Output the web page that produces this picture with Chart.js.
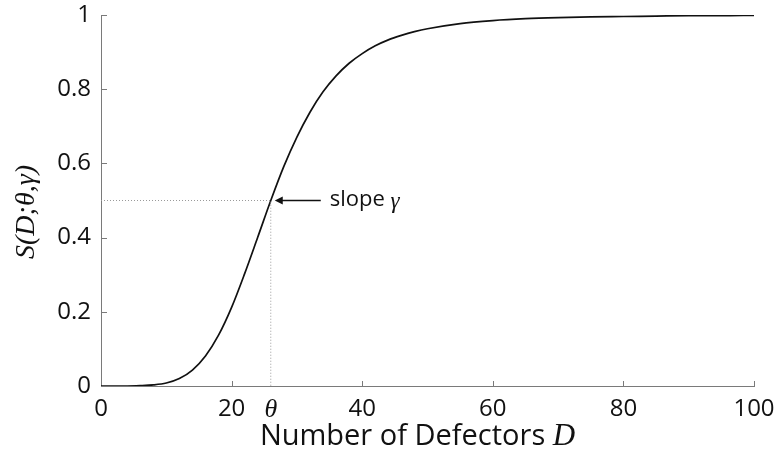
<!DOCTYPE html>
<html>
<head>
<meta charset="utf-8">
<script src="https://cdn.jsdelivr.net/npm/chart.js@4"></script>
<style>
  html, body { margin: 0; padding: 0; background: #fff; overflow: hidden; }
  #wrap { width: 800px; height: 463px; }
</style>
</head>
<body>
<div id="wrap"><canvas id="c" width="800" height="463"></canvas></div>
<script>
// ---- data ----
const defectors = [0,2,4,6,8,10,12,14,16,18,20,22,24,26,28,30,32,34,36,38,40,42,44,46,48,50,55,60,65,70,75,80,85,90,95,100];
const survival  = [0,0,0,0.001,0.003,0.008,0.020,0.043,0.081,0.137,0.212,0.303,0.401,0.5,0.592,0.671,0.738,0.793,0.836,0.870,0.896,0.917,0.933,0.945,0.955,0.963,0.977,0.985,0.990,0.993,0.995,0.996,0.997,0.998,0.998,0.999];
const theta = 26;
const halfLevel = 0.5;
const xTickValues = [0, 20, 26, 40, 60, 80, 100];
const yTickValues = [0, 0.2, 0.4, 0.6, 0.8, 1];
const xTitleMain = 'Number of Defectors ';
const xTitleVar = 'D';
const yTitle = 'S(D;θ,γ)';
const annotationText = 'slope γ';

const SANS = '"Open Sans", sans-serif';
const SERIF = '"Liberation Serif", serif';

const curvePoints = defectors.map((d, i) => ({ x: d, y: survival[i] }));
const guidePoints = [{ x: 0, y: halfLevel }, { x: theta, y: halfLevel }, { x: theta, y: 0 }];

const decorPlugin = {
  id: 'decor',
  afterDraw(chart) {
    const ctx = chart.ctx;
    const xs = chart.scales.x, ys = chart.scales.y;
    const area = chart.chartArea;
    ctx.save();
    // inward tick marks
    ctx.strokeStyle = '#7a7a7a';
    ctx.lineWidth = 1;
    xTickValues.forEach(v => {
      if (v === theta || v === 0) return;
      const px = Math.round(xs.getPixelForValue(v)) + 0.5;
      ctx.beginPath();
      ctx.moveTo(px, area.bottom);
      ctx.lineTo(px, area.bottom - 5);
      ctx.stroke();
    });
    yTickValues.forEach(v => {
      if (v === 0) return;
      const py = Math.round(ys.getPixelForValue(v)) + 0.5;
      ctx.beginPath();
      ctx.moveTo(area.left, py);
      ctx.lineTo(area.left + 6, py);
      ctx.stroke();
    });
    // annotation arrow + text
    const ax = xs.getPixelForValue(theta);
    const ay = ys.getPixelForValue(halfLevel);
    ctx.strokeStyle = '#111';
    ctx.fillStyle = '#111';
    ctx.lineWidth = 1.5;
    ctx.beginPath();
    ctx.moveTo(ax + 8, ay);
    ctx.lineTo(ax + 50, ay);
    ctx.stroke();
    ctx.beginPath();
    ctx.moveTo(ax + 4, ay);
    ctx.lineTo(ax + 12, ay - 4);
    ctx.lineTo(ax + 12, ay + 4);
    ctx.closePath();
    ctx.fill();
    ctx.textBaseline = 'middle';
    ctx.textAlign = 'left';
    ctx.font = '22px ' + SANS;
    const parts = annotationText.split(' ');
    ctx.fillText(parts[0] + ' ', ax + 59, ay - 1);
    const w1 = ctx.measureText(parts[0] + ' ').width;
    ctx.font = 'italic 23px ' + SERIF;
    ctx.fillText(parts[1], ax + 59 + w1, ay + 1);
    // x title (mixed fonts)
    ctx.textBaseline = 'alphabetic';
    ctx.font = '29px ' + SANS;
    const wMain = ctx.measureText(xTitleMain).width;
    ctx.font = 'italic 31px ' + SERIF;
    const wVar = ctx.measureText(xTitleVar).width;
    const cx = (area.left + area.right) / 2 - 10;
    let sx = cx - (wMain + wVar) / 2;
    ctx.font = '29px ' + SANS;
    ctx.fillText(xTitleMain, sx, 445);
    ctx.font = 'italic 31px ' + SERIF;
    ctx.fillText(xTitleVar, sx + wMain, 445);
    // y title
    ctx.translate(27, 212);
    ctx.rotate(-Math.PI / 2);
    ctx.textAlign = 'center';
    ctx.textBaseline = 'middle';
    ctx.font = 'italic 28px ' + SERIF;
    ctx.fillText(yTitle, 0, 0);
    ctx.restore();
  }
};

new Chart(document.getElementById('c'), {
  type: 'scatter',
  data: {
    datasets: [
      {
        data: guidePoints,
        showLine: true,
        borderColor: '#9a9a9a',
        borderWidth: 1,
        borderDash: [1, 2],
        pointRadius: 0,
        tension: 0
      },
      {
        data: curvePoints,
        showLine: true,
        borderColor: '#111',
        borderWidth: 1.7,
        pointRadius: 0,
        cubicInterpolationMode: 'monotone'
      }
    ]
  },
  options: {
    responsive: false,
    animation: false,
    devicePixelRatio: 1,
    layout: { padding: { left: 0, top: 15, right: 46, bottom: 0 } },
    plugins: { legend: { display: false }, tooltip: { enabled: false } },
    scales: {
      x: {
        type: 'linear',
        min: 0, max: 100,
        afterBuildTicks: s => { s.ticks = xTickValues.map(v => ({ value: v })); },
        afterFit: s => { s.height = 77; s.paddingLeft = 0; s.paddingRight = 0; },
        grid: { display: true, drawOnChartArea: false, drawTicks: false },
        border: { display: true, color: '#7a7a7a', width: 1 },
        ticks: {
          autoSkip: false, maxRotation: 0, padding: 9,
          color: '#111',
          font: ctx => (ctx.tick && ctx.tick.value === theta)
            ? { family: SERIF, size: 26, style: 'italic' }
            : { family: SANS, size: 24 },
          callback: v => v === theta ? 'θ' : String(v)
        }
      },
      y: {
        type: 'linear',
        min: 0, max: 1,
        afterBuildTicks: s => { s.ticks = yTickValues.map(v => ({ value: v })); },
        afterFit: s => { s.width = 101; s.paddingTop = 0; s.paddingBottom = 0; },
        grid: { display: true, drawOnChartArea: false, drawTicks: false },
        border: { display: true, color: '#7a7a7a', width: 1 },
        ticks: {
          padding: 10,
          color: '#111',
          font: { family: SANS, size: 24 },
          callback: v => (v === 0 || v === 1) ? String(v) : v.toFixed(1)
        }
      }
    }
  },
  plugins: [decorPlugin]
});
</script>
</body>
</html>
